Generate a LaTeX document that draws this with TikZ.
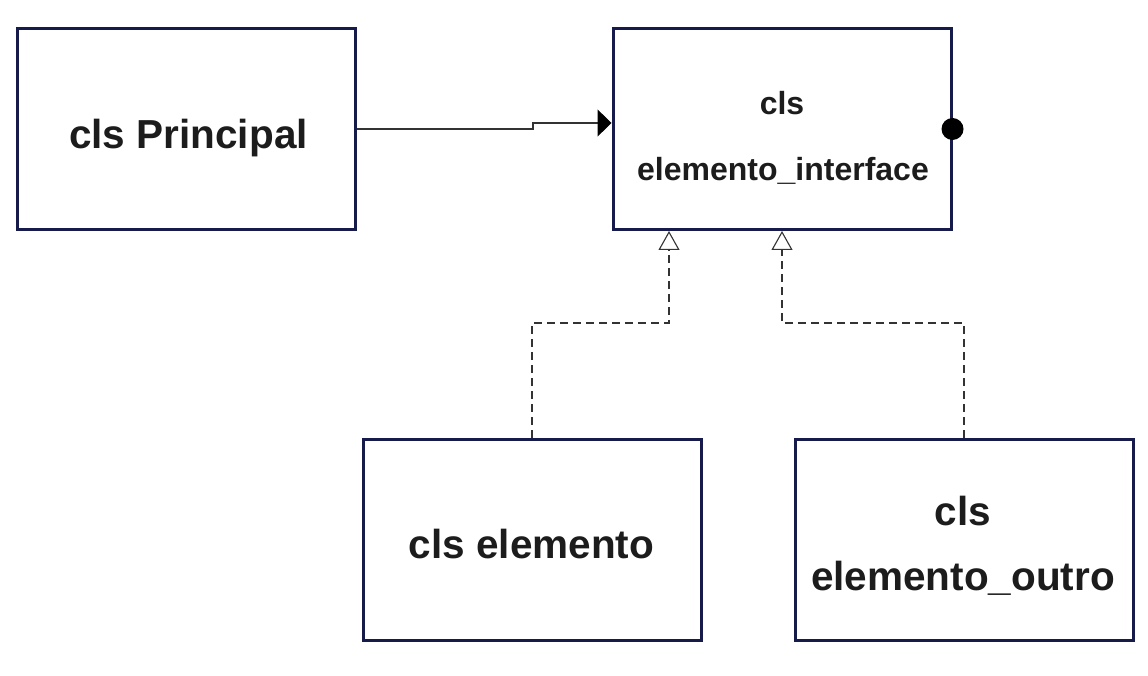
\documentclass[tikz,border=0pt]{standalone}
\usepackage{fontspec}
\setmainfont{Liberation Sans}
\usepackage{tikz}
\usetikzlibrary{arrows.meta}

\definecolor{clsborder}{HTML}{161B4C}
\definecolor{clstext}{HTML}{1C1C1C}
\definecolor{linkgray}{HTML}{333333}

\begin{document}
\begin{tikzpicture}[x=1pt, y=-1pt,
    clsbox/.style={draw=clsborder, line width=3pt, fill=white, minimum width=338pt, minimum height=201pt, inner sep=0pt},
    bigtxt/.style={anchor=base, text=clstext, font=\fontsize{40.5}{48}\selectfont\bfseries},
    smalltxt/.style={anchor=base, text=clstext, font=\fontsize{32}{38}\selectfont\bfseries},
    assoc/.style={draw=linkgray, line width=1.1pt, -{Triangle[length=14pt, width=27pt, fill=black, color=black]}},
    realize/.style={draw=linkgray, line width=1.1pt, dash pattern=on 8pt off 5pt, -{Triangle[open, fill=white, length=19pt, width=21pt]}}]
\useasboundingbox (0,0) rectangle (1148,676);

% classes
\node[clsbox] (prin) at (186.5,129) {};
\node[clsbox] (iface) at (782,129) {};
\node[clsbox] (elem) at (532,540) {};
\node[clsbox] (outro) at (964,540) {};

% names
\node[bigtxt] (prinname) at (188.5,149) {cls Principal};
\node[smalltxt] (ifacecls) at (782,115) {cls};
\node[smalltxt] (ifacename) at (783,181) {elemento\_interface};
\node[bigtxt] (elemname) at (531.5,558) {cls elemento};
\node[bigtxt] (outrocls) at (963,525) {cls};
\node[bigtxt] (outroname) at (963,590) {elemento\_outro};

% links
\draw[assoc] (prin.east) -- ++(176,0) |- ([yshift=6pt]iface.west);
\node[circle, fill=black, minimum size=22pt, inner sep=0pt] (port) at (iface.east) {};
\draw[realize] (elem.north) -- ++(0,-115) -| ([xshift=-113pt]iface.south);
\draw[realize] (outro.north) -- ++(0,-115) -| (iface.south);
\end{tikzpicture}
\end{document}
